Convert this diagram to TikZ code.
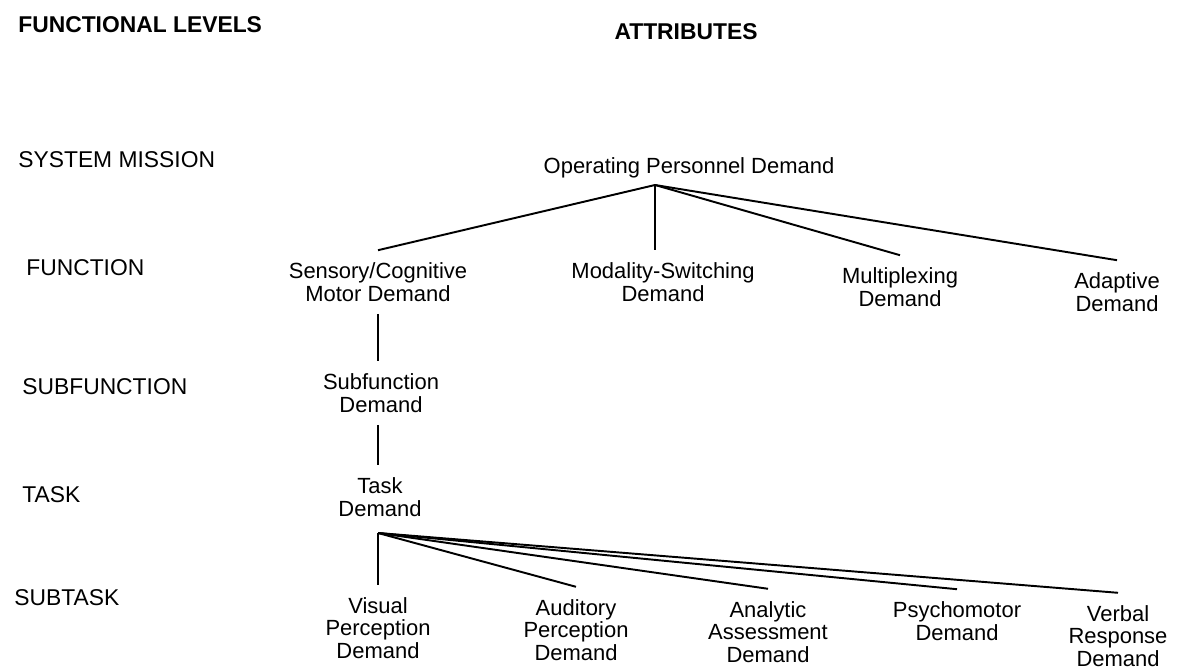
\documentclass[tikz,border=0pt]{standalone}
\usepackage{fontspec}
\setmainfont{Liberation Sans}
\newcommand{\attrfont}{\fontsize{12.5}{13}\selectfont}
\newcommand{\levelfont}{\fontsize{13}{15}\selectfont}
\newcommand{\headfont}{\fontsize{13}{15}\selectfont\bfseries}
\tikzset{
  attr/.style={align=center, font=\attrfont, inner sep=0pt, outer sep=7pt},
  level/.style={anchor=west, font=\levelfont, inner sep=0pt},
  head/.style={font=\headfont, inner sep=0pt},
  link/.style={line width=1.1pt},
}
\begin{document}
\begin{tikzpicture}[x=0.02cm, y=-0.02cm]
    \useasboundingbox (0,0) rectangle (1197,671);
    % column headings
    \node[head, anchor=west] (flevels) at (18,25) {FUNCTIONAL LEVELS};
    \node[head] (attrib) at (686,32) {ATTRIBUTES};
    % functional levels
    \node[level] (lmission) at (18,160) {SYSTEM MISSION};
    \node[level] (lfunction) at (26,268) {FUNCTION};
    \node[level] (lsubfunc) at (22,387) {SUBFUNCTION};
    \node[level] (ltask) at (22,495) {TASK};
    \node[level] (lsubtask) at (14,598) {SUBTASK};
    % attributes
    \node[attr] (opd) at (689,168) {Operating Personnel Demand};
    \node[attr] (sens) at (378,282) {Sensory/Cognitive\\Motor Demand};
    \node[attr] (modal) at (663,282) {Modality-Switching\\Demand};
    \node[attr] (multi) at (900,287) {Multiplexing\\Demand};
    \node[attr] (adapt) at (1117,292) {Adaptive\\Demand};
    \node[attr] (subf) at (381,393) {Subfunction\\Demand};
    \node[attr] (task) at (380,497) {Task\\Demand};
    \node[attr] (visual) at (378,628) {Visual\\Perception\\Demand};
    \node[attr] (audit) at (576,630) {Auditory\\Perception\\Demand};
    \node[attr] (analy) at (768,632) {Analytic\\Assessment\\Demand};
    \node[attr] (psycho) at (957,621) {Psychomotor\\Demand};
    \node[attr] (verbal) at (1118,636) {Verbal\\Response\\Demand};
    % branch points
    \coordinate (opdhub) at (655,185);
    \coordinate (taskhub) at (378,533);
    % connectors
    \foreach \n in {sens, multi, adapt}
        \draw[link] (opdhub) -- (\n.north);
    \draw[link] (opdhub) -- (opdhub |- modal.north);
    \draw[link] (sens.south) -- (sens.south |- subf.north);
    \draw[link] (subf.south -| sens.south) -- (sens.south |- task.north);
    \draw[link] (taskhub) -- (taskhub |- visual.north);
    \foreach \n in {audit, analy, psycho, verbal}
        \draw[link] (taskhub) -- (\n.north);
\end{tikzpicture}
\end{document}
